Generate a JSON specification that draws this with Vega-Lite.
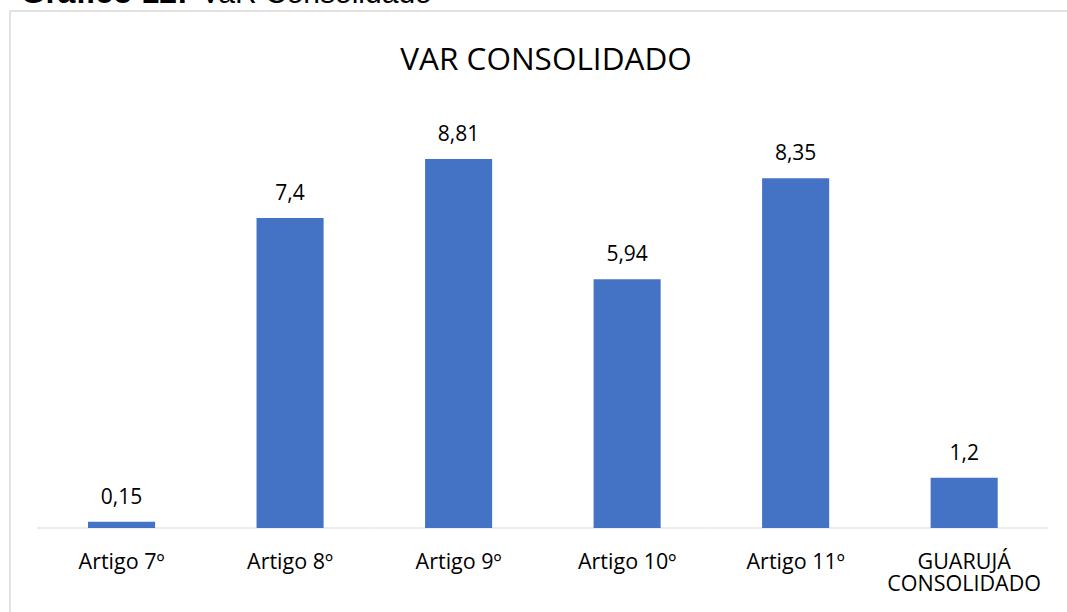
{
  "$schema": "https://vega.github.io/schema/vega-lite/v6.json",
  "width": 1060,
  "height": 603,
  "autosize": {"type": "none"},
  "padding": {"left": 10, "top": 11, "right": 0, "bottom": 0},
  "background": "white",
  "config": {
    "locale": {"number": {"decimal": ",", "thousands": ".", "grouping": [3], "currency": ["R$ ", ""]}},
    "view": {"stroke": "#d9d9d9", "strokeWidth": 1.5}
  },
  "title": {
    "text": "VAR CONSOLIDADO",
    "anchor": "middle",
    "frame": "group",
    "orient": "top",
    "offset": -125,
    "baseline": "alphabetic",
    "font": "Open Sans",
    "fontSize": 31.5,
    "fontWeight": "normal",
    "color": "#000000",
    "dx": 6
  },
  "data": {
    "values": [
      {"categoria": "Artigo 7º", "valor": 0.15},
      {"categoria": "Artigo 8º", "valor": 7.4},
      {"categoria": "Artigo 9º", "valor": 8.81},
      {"categoria": "Artigo 10º", "valor": 5.94},
      {"categoria": "Artigo 11º", "valor": 8.35},
      {"categoria": "GUARUJÁ CONSOLIDADO", "valor": 1.2}
    ]
  },
  "encoding": {
    "x": {
      "field": "categoria",
      "type": "nominal",
      "sort": null,
      "scale": {"paddingInner": 0.602, "paddingOuter": 0.4459, "align": 0.519},
      "axis": {
        "orient": "bottom",
        "offset": -86,
        "domain": false,
        "ticks": false,
        "grid": false,
        "labelAngle": 0,
        "labelFont": "Open Sans",
        "labelFontSize": 21.5,
        "labelColor": "#000000",
        "labelBaseline": "top",
        "labelPadding": 23.5,
        "labelLineHeight": 22,
        "labelOverlap": false,
        "labelExpr": "datum.value == 'GUARUJÁ CONSOLIDADO' ? ['GUARUJÁ', 'CONSOLIDADO'] : datum.label",
        "title": "VaR Consolidado",
        "titleFont": "Liberation Sans",
        "titleFontSize": 30,
        "titleFontWeight": "normal",
        "titleColor": "#000000",
        "titleAngle": 0,
        "titleAlign": "left",
        "titleBaseline": "alphabetic",
        "titleX": 190,
        "titleY": -526
      }
    },
    "y": {
      "field": "valor",
      "type": "quantitative",
      "scale": {"domain": [-2.053, 12.345], "nice": false, "zero": false},
      "axis": {
        "domain": false,
        "ticks": false,
        "labels": false,
        "grid": false,
        "title": "Gráfico 12:",
        "titleFont": "Liberation Sans",
        "titleFontSize": 32,
        "titleFontWeight": "bold",
        "titleColor": "#000000",
        "titleAngle": 0,
        "titleAlign": "left",
        "titleBaseline": "alphabetic",
        "titleX": 10,
        "titleY": -9
      }
    }
  },
  "layer": [
    {
      "mark": {"type": "tick", "orient": "horizontal", "color": "#d9d9d9", "thickness": 1.2, "opacity": 1},
      "encoding": {
        "y": {"datum": 0, "type": "quantitative"},
        "size": {"value": 168.5}
      }
    },
    {
      "mark": {"type": "bar", "color": "#4472C4"}
    },
    {
      "mark": {"type": "text", "dy": -18, "baseline": "alphabetic", "font": "Open Sans", "fontSize": 21, "color": "#000000"},
      "encoding": {
        "text": {"field": "valor", "type": "quantitative", "format": "~g"}
      }
    }
  ]
}
